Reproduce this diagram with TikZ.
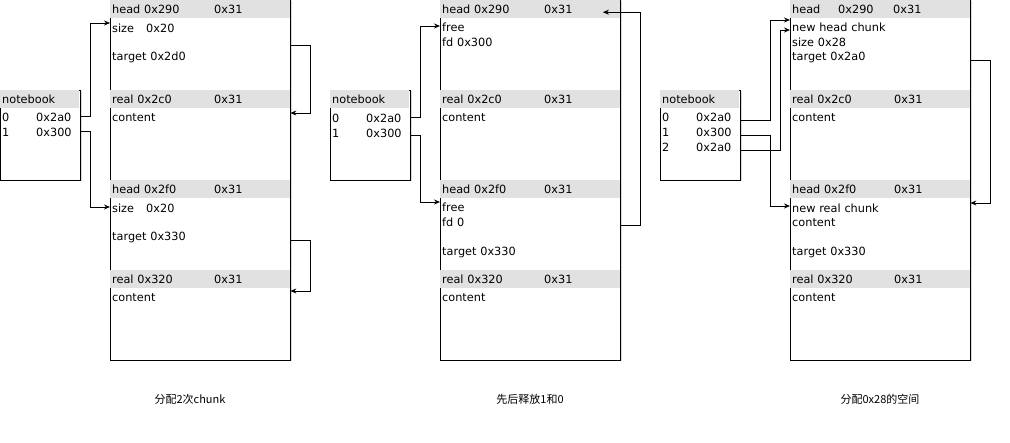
\documentclass[tikz,border=0pt]{standalone}
\usepackage{fontspec}
\setmainfont{DejaVu Sans}
\newfontfamily\cjk{Noto Sans CJK SC}
\usetikzlibrary{arrows.meta,shadows}

\definecolor{bandgray}{HTML}{E1E1E1}
\newcommand{\hdrow}[2]{\makebox[102pt][l]{#1}#2}
\newcommand{\nbcell}[2]{\makebox[34pt][l]{#1}#2}

\begin{document}
\begin{tikzpicture}[
    x=1pt, y=-1pt,
    every node/.style={font=\fontsize{11.3}{13}\selectfont},
    box/.style={draw, line width=0.8pt, fill=white,
        drop shadow={shadow xshift=1.5pt, shadow yshift=-1.5pt, fill=black, opacity=0.15}},
    band/.style={fill=bandgray, anchor=north west, minimum height=18pt, inner xsep=2pt, inner ysep=0pt,
        text width=175.5pt, align=left, text height=9pt, text depth=1pt},
    nbband/.style={band, text width=75pt},
    cell/.style={anchor=west, inner xsep=2pt, inner ysep=0pt, text width=176pt, align=left,
        text height=11pt, text depth=0pt},
    nbrow/.style={cell, text width=76pt},
    arrow/.style={-{Stealth[length=6pt,width=5pt]}, line width=0.8pt},
    caption/.style={font=\cjk\fontsize{11}{13}\selectfont}
]
\useasboundingbox (0,0) rectangle (1010,443);

% --- allocate two chunks
\begin{scope}
\draw[box] (0,90) rectangle (80,180);
\node[nbband] (a-nb) at (0,90) {notebook};
\node[nbrow] (a-r0) at (0,116) {\nbcell{0}{0x2a0}};
\node[nbrow] (a-r1) at (0,131) {\nbcell{1}{0x300}};

\draw[box] (110,0) rectangle (290,360);
\node[band] (a-h1) at (110,0) {\hdrow{head 0x290}{0x31}};
\node[cell] (a-size1) at (110,27) {\makebox[34pt][l]{size}0x20};
\node[cell] (a-tgt1) at (110,55) {target 0x2d0};
\node[band] (a-rl1) at (110,90) {\hdrow{real 0x2c0}{0x31}};
\node[cell] (a-c1) at (110,116) {content};
\node[band] (a-h2) at (110,180) {\hdrow{head 0x2f0}{0x31}};
\node[cell] (a-size2) at (110,207) {\makebox[34pt][l]{size}0x20};
\node[cell] (a-tgt2) at (110,235) {target 0x330};
\node[band] (a-rl2) at (110,270) {\hdrow{real 0x320}{0x31}};
\node[cell] (a-c2) at (110,296) {content};

\draw[arrow] (a-r0.east) -- ++(10,0) |- ([yshift=4pt]a-size1.west);
\draw[arrow] (a-r1.east) -- ++(10,0) |- (a-size2.west);
\draw[arrow] ([yshift=10pt]a-tgt1.east) -- ++(20,0) |- ([yshift=3pt]a-c1.east);
\draw[arrow] ([yshift=-5pt]a-tgt2.east) -- ++(20,0) |- ([yshift=5pt]a-c2.east);

\node[caption] (a-cap) at (190,399) {分配2次chunk};
\end{scope}

% --- free 1 then 0
\begin{scope}[xshift=330pt]
\draw[box] (0,90) rectangle (80,180);
\node[nbband] (b-nb) at (0,90) {notebook};
\node[nbrow] (b-r0) at (0,117) {\nbcell{0}{0x2a0}};
\node[nbrow] (b-r1) at (0,132) {\nbcell{1}{0x300}};

\draw[box] (110,0) rectangle (290,360);
\node[band] (b-h1) at (110,0) {\hdrow{head 0x290}{0x31}};
\node[cell] (b-free1) at (110,26) {free};
\node[cell] (b-fd1) at (110,41) {fd 0x300};
\node[band] (b-rl1) at (110,90) {\hdrow{real 0x2c0}{0x31}};
\node[cell] (b-c1) at (110,116) {content};
\node[band] (b-h2) at (110,180) {\hdrow{head 0x2f0}{0x31}};
\node[cell] (b-free2) at (110,206) {free};
\node[cell] (b-fd2) at (110,221) {fd 0};
\node[cell] (b-tgt2) at (110,250) {target 0x330};
\node[band] (b-rl2) at (110,270) {\hdrow{real 0x320}{0x31}};
\node[cell] (b-c2) at (110,296) {content};

\draw[arrow] (b-r0.east) -- ++(10,0) |- (b-free1.west);
\draw[arrow] ([yshift=-3pt]b-r1.east) -- ++(10,0) |- ([yshift=4pt]b-free2.west);
\draw[arrow] ([yshift=-4pt]b-fd2.east) -- ++(20,0) |- ([xshift=-17pt,yshift=-3pt]b-h1.east);

\node[caption] (b-cap) at (200,399) {先后释放1和0};
\end{scope}

% --- allocate 0x28
\begin{scope}[xshift=660pt]
\draw[box] (0,90) rectangle (80,180);
\node[nbband] (c-nb) at (0,90) {notebook};
\node[nbrow] (c-r0) at (0,116) {\nbcell{0}{0x2a0}};
\node[nbrow] (c-r1) at (0,131) {\nbcell{1}{0x300}};
\node[nbrow] (c-r2) at (0,146) {\nbcell{2}{0x2a0}};

\draw[box] (130,0) rectangle (310,360);
\node[band] (c-h1) at (130,0) {\makebox[46pt][l]{head}\makebox[55pt][l]{0x290}0x31};
\node[cell] (c-new1) at (130,26) {new head chunk};
\node[cell] (c-size1) at (130,41) {size 0x28};
\node[cell] (c-tgt1) at (130,55) {target 0x2a0};
\node[band] (c-rl1) at (130,90) {\hdrow{real 0x2c0}{0x31}};
\node[cell] (c-c1) at (130,116) {content};
\node[band] (c-h2) at (130,180) {\hdrow{head 0x2f0}{0x31}};
\node[cell] (c-new2) at (130,207) {new real chunk};
\node[cell] (c-c2) at (130,221) {content};
\node[cell] (c-tgt2) at (130,250) {target 0x330};
\node[band] (c-rl2) at (130,270) {\hdrow{real 0x320}{0x31}};
\node[cell] (c-c3) at (130,296) {content};

\draw[arrow] ([yshift=-4pt]c-r0.east) -- ++(30,0) |- ([yshift=6pt]c-new1.west);
\draw[arrow] ([yshift=-4pt]c-r2.east) -- ++(40,0) |- ([yshift=-4pt]c-new1.west);
\draw[arrow] ([yshift=-4pt]c-r1.east) -- ++(30,0) |- ([yshift=1pt]c-new2.west);
\draw[arrow] ([yshift=-5pt]c-tgt1.east) -- ++(20,0) |- ([yshift=4pt]c-new2.east);

\node[caption] (c-cap) at (220,399) {分配0x28的空间};
\end{scope}

\end{tikzpicture}
\end{document}
